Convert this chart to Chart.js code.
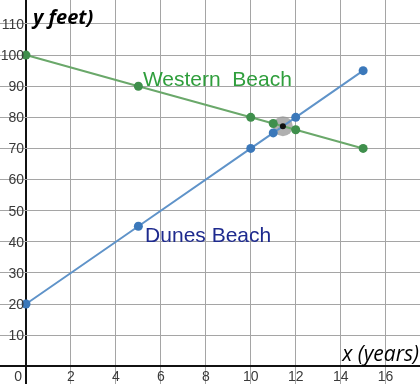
<!DOCTYPE html>
<html>
<head>
<meta charset="utf-8">
<script src="https://cdn.jsdelivr.net/npm/chart.js@4"></script>
<style>
html,body{margin:0;padding:0;background:#fff;}
#wrap{width:420px;height:384px;position:relative;}
</style>
</head>
<body>
<div id="wrap"><canvas id="c" width="420" height="384"></canvas></div>
<script>
// Data
const years = [0, 5, 10, 11, 12, 15];
const westernBeach = [100, 90, 80, 78, 76, 70];
const dunesBeach = [20, 45, 70, 75, 80, 95];
const intersection = [{x: 11.43, y: 77.14}];
const xTickLabels = [0, 2, 4, 6, 8, 10, 12, 14, 16];
const yTickLabels = [10, 20, 30, 40, 50, 60, 70, 80, 90, 100, 110];

const toPts = (xs, ys) => xs.map((x, i) => ({x: x, y: ys[i]}));

const labelPlugin = {
  id: 'labels',
  afterDraw(chart) {
    const ctx = chart.ctx;
    const xs = chart.scales.x, ys = chart.scales.y;
    const x0 = xs.getPixelForValue(0);
    const y0 = ys.getPixelForValue(0);
    ctx.save();
    ctx.fillStyle = '#3a3a3a';
    ctx.font = '14px "Liberation Sans", Arial, sans-serif';
    ctx.textBaseline = 'middle';
    ctx.textAlign = 'right';
    yTickLabels.forEach(v => {
      ctx.fillText(String(v), x0 - 2, ys.getPixelForValue(v) + 1);
    });
    xTickLabels.forEach(v => {
      if (v === 0) {
        ctx.textAlign = 'right';
        ctx.fillText('0', x0 - 4, y0 + 11);
      } else {
        ctx.textAlign = 'center';
        ctx.fillText(String(v), xs.getPixelForValue(v), y0 + 11);
      }
    });
    // series labels
    ctx.textAlign = 'left';
    ctx.textBaseline = 'alphabetic';
    ctx.font = '21px "Liberation Sans", Arial, sans-serif';
    ctx.fillStyle = '#2f9e3c';
    ctx.fillText('Western  Beach', xs.getPixelForValue(5.2), ys.getPixelForValue(90.2));
    ctx.fillStyle = '#1e2a8e';
    ctx.fillText('Dunes Beach', xs.getPixelForValue(5.3), ys.getPixelForValue(39.9));
    // axis titles
    ctx.fillStyle = '#000';
    ctx.font = 'italic bold 20px "Open Sans", "Liberation Sans", sans-serif';
    ctx.fillText('y feet)', 33, 24);
    ctx.font = 'italic 21px "Open Sans", "Liberation Sans", sans-serif';
    ctx.textAlign = 'right';
    ctx.fillText('x (years)', 419, y0 - 5);
    ctx.restore();
  }
};

new Chart(document.getElementById('c'), {
  type: 'scatter',
  data: {
    datasets: [
      {
        label: 'Intersection',
        data: intersection,
        pointRadius: 3,
        pointBackgroundColor: '#111',
        pointBorderWidth: 0,
        showLine: false
      },
      {
        label: 'Western Beach',
        data: toPts(years, westernBeach),
        showLine: true,
        borderColor: '#6aa86a',
        borderWidth: 2,
        pointRadius: 4.5,
        pointBackgroundColor: '#3f8f4c',
        pointBorderColor: '#3f8f4c',
        pointBorderWidth: 0
      },
      {
        label: 'Dunes Beach',
        data: toPts(years, dunesBeach),
        showLine: true,
        borderColor: '#5f93c9',
        borderWidth: 2,
        pointRadius: 4.5,
        pointBackgroundColor: '#3b78ba',
        pointBorderColor: '#3b78ba',
        pointBorderWidth: 0
      },
      {
        label: 'Halo',
        data: intersection,
        pointRadius: 10,
        pointBackgroundColor: 'rgba(150,150,150,0.75)',
        pointBorderWidth: 0,
        showLine: false
      }
    ]
  },
  options: {
    responsive: false,
    animation: false,
    devicePixelRatio: 1,
    layout: {padding: 0, autoPadding: false},
    plugins: {legend: {display: false}, tooltip: {enabled: false}},
    scales: {
      x: {
        type: 'linear',
        min: -1.157,
        max: 17.53,
        border: {display: false},
        ticks: {display: false, stepSize: 2, includeBounds: false},
        grid: {
          drawTicks: false,
          tickLength: 0,
          color: c => c.tick && c.tick.value === 0 ? '#111' : '#a5a5a5',
          lineWidth: c => c.tick && c.tick.value === 0 ? 2 : 1
        }
      },
      y: {
        type: 'linear',
        min: -5.7,
        max: 117.7,
        border: {display: false},
        ticks: {display: false, stepSize: 10, includeBounds: false},
        grid: {
          drawTicks: false,
          tickLength: 0,
          color: c => c.tick && c.tick.value === 0 ? '#111' : '#a5a5a5',
          lineWidth: c => c.tick && c.tick.value === 0 ? 2 : 1
        }
      }
    }
  },
  plugins: [labelPlugin]
});
</script>
</body>
</html>
